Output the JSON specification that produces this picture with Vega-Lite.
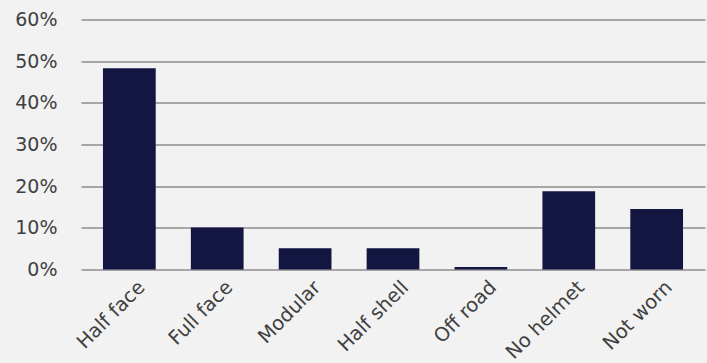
{
  "$schema": "https://vega.github.io/schema/vega-lite/v6.json",
  "autosize": "none",
  "width": 624,
  "height": 250,
  "padding": {"left": 81, "top": 19.5, "right": 2, "bottom": 93.5},
  "background": "#f2f2f2",
  "config": {
    "view": {"stroke": null},
    "font": "DejaVu Sans",
    "axis": {"labelFont": "DejaVu Sans", "labelColor": "#404040", "labelFontSize": 19}
  },
  "data": {
    "values": [
      {"type": "Half face", "value": 0.483},
      {"type": "Full face", "value": 0.101},
      {"type": "Modular", "value": 0.051},
      {"type": "Half shell", "value": 0.051},
      {"type": "Off road", "value": 0.006},
      {"type": "No helmet", "value": 0.188},
      {"type": "Not worn", "value": 0.145}
    ]
  },
  "mark": {"type": "bar", "color": "#141642"},
  "encoding": {
    "x": {
      "field": "type", "type": "nominal", "sort": null,
      "scale": {"paddingInner": 0.4, "paddingOuter": 0.25},
      "axis": {"title": null, "labelAngle": -45, "ticks": false, "domain": false, "labelPadding": 8, "labelOffset": 6, "labelOverlap": false, "labelFontSize": 19.5}
    },
    "y": {
      "field": "value", "type": "quantitative",
      "scale": {"domain": [0, 0.6]},
      "axis": {"title": null, "format": ".0%", "values": [0, 0.1, 0.2, 0.3, 0.4, 0.5, 0.6], "labelOverlap": false, "ticks": false, "domain": false, "labelPadding": 24, "gridColor": "#a6a6a6", "gridWidth": 2, "gridOpacity": 1}
    }
  }
}
